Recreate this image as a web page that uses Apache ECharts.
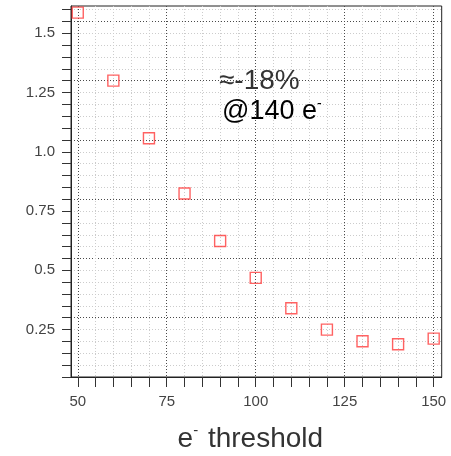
<!DOCTYPE html>
<html>
<head>
<meta charset="utf-8">
<script src="https://cdn.jsdelivr.net/npm/echarts@6/dist/echarts.min.js"></script>
<style>html,body{margin:0;padding:0;background:#fff}#c{width:451px;height:456px}</style>
</head>
<body>
<div id="c"></div>
<script>
// ---- data ----
var thresholds = [50, 60, 70, 80, 90, 100, 110, 120, 130, 140, 150];
var values = [1.587, 1.300, 1.057, 0.824, 0.624, 0.468, 0.340, 0.250, 0.201, 0.188, 0.212];
var xTickLabels = [50, 75, 100, 125, 150];
var yTickValues = [0.25, 0.5, 0.75, 1.0, 1.25, 1.5];
var yTickLabels = ['0.25', '0.5', '0.75', '1.0', '1.25', '1.5'];
var annotationLines = ['≈-18%', '@140 e'];
var axisTitle = 'threshold';

var xMinor = [];
for (var v = 50; v <= 150; v += 5) xMinor.push(v);
var yMinor = [];
for (var k = 1; k <= 32; k++) yMinor.push(Math.round(k * 5) / 100);

var FONT = '"Liberation Sans", Arial, sans-serif';
var dark = '#4a4a4a', light = '#cccccc';

var chart = echarts.init(document.getElementById('c'));
chart.setOption({
  animation: false,
  backgroundColor: '#fff',
  grid: {
    left: 71, top: 6, right: 9.3, bottom: 79,
    show: true, borderColor: '#222', borderWidth: 1,
    outerBoundsMode: 'none', containLabel: false
  },
  xAxis: {
    type: 'value', min: 48.1, max: 152.25,
    axisLine: { show: true, onZero: false, lineStyle: { color: '#222', width: 1 } },
    axisTick: { show: true, inside: false, length: 10, customValues: xMinor, lineStyle: { color: '#333' } },
    axisLabel: {
      customValues: xTickLabels, margin: 17, fontSize: 15, color: '#444', fontFamily: FONT
    },
    splitLine: { show: true, lineStyle: { type: [1, 2], width: 1, color: [dark, light, light, light, light] } },
    name: '{b|e}{s|-}{b| ' + axisTitle + '}',
    nameLocation: 'middle', nameGap: 46,
    nameTextStyle: {
      padding: [0, 12, 0, 0],
      rich: {
        b: { fontSize: 28, color: '#333', fontFamily: FONT },
        s: { fontSize: 15, color: '#333', fontFamily: FONT, padding: [0, 2, 17, 0] }
      }
    }
  },
  yAxis: {
    type: 'value', min: 0.05, max: 1.615,
    axisLine: { show: true, onZero: false, lineStyle: { color: '#222', width: 1 } },
    axisTick: { show: true, inside: false, length: 9, customValues: yMinor, lineStyle: { color: '#333' } },
    axisLabel: {
      customValues: yTickValues, margin: 16, fontSize: 15, color: '#444', fontFamily: FONT,
      formatter: function (val) {
        var i = yTickValues.findIndex(function (t) { return Math.abs(t - val) < 1e-6; });
        return i >= 0 ? yTickLabels[i] : '';
      }
    },
    splitLine: { show: true, lineStyle: { type: [1, 2], width: 1, color: [dark, light, light, light, light] } }
  },
  series: [{
    type: 'scatter',
    data: thresholds.map(function (t, i) { return [t, values[i]]; }),
    symbol: 'rect', symbolSize: 11,
    itemStyle: { color: 'rgba(0,0,0,0)', borderColor: '#ff3b3b', borderWidth: 1.4 },
    z: 5
  }],
  graphic: [
    { type: 'text', left: 219, top: 67, z: 10,
      style: { text: annotationLines[0], font: '28px ' + FONT, fill: '#333' } },
    { type: 'text', left: 222, top: 97, z: 10,
      style: { text: '{b|' + annotationLines[1] + '}{s|-}',
        rich: { b: { fontSize: 27, fontFamily: FONT, color: '#333' },
                s: { fontSize: 14, fontFamily: FONT, color: '#333', padding: [0, 0, 16, 0] } } } }
  ]
});
</script>
</body>
</html>
